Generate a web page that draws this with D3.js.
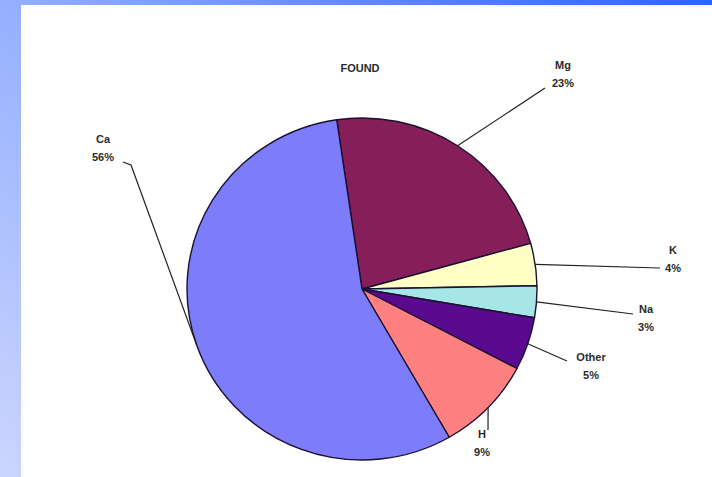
<!DOCTYPE html>
<html lang="en">
<head>
<meta charset="utf-8">
<title>FOUND pie</title>
<script src="https://cdn.jsdelivr.net/npm/d3@7"></script>
<style>
  html, body { margin: 0; padding: 0; background: #fff; }
  svg { display: block; }
  .lbl { font-family: Arial, "Liberation Sans", sans-serif; font-size: 11px; font-weight: bold; fill: #2a2a2a; }
</style>
</head>
<body>
<script>
// data, clockwise from the top
var categories = ['Mg', 'K', 'Na', 'Other', 'H', 'Ca'];
var values = [23, 4, 3, 5, 9, 56];
var colors = ['#861e5a', '#ffffc6', '#a6e6e6', '#5a0a8e', '#ff8080', '#7d7dfb'];
var title = 'FOUND';

// label layout: centre of the name line, and where the leader ends
var labelPos = {
  Mg:    { x: 563, y: 65,  lx: 545, ly: 88 },
  K:     { x: 673, y: 250, lx: 660, ly: 268 },
  Na:    { x: 646, y: 309, lx: 633, ly: 314 },
  Other: { x: 591, y: 357, lx: 567, ly: 361 },
  H:     { x: 482, y: 434, lx: 488, ly: 430 },
  Ca:    { x: 103, y: 139, lx: 131, ly: 165, ex: 123, ey: 162 }
};

var w = 712, h = 477;
var cx = 362, cy = 289, rx = 175, ry = 171;
var startDeg = -8.3;

var svg = d3.select('body').append('svg')
  .attr('width', w)
  .attr('height', h);

// slide background
var defs = svg.append('defs');
var grad = defs.append('linearGradient')
  .attr('id', 'bg')
  .attr('x1', 0).attr('y1', 1).attr('x2', 1).attr('y2', 0);
grad.append('stop').attr('offset', 0).attr('stop-color', '#ccd5fd');
grad.append('stop').attr('offset', 0.5).attr('stop-color', '#95b0ff');
grad.append('stop').attr('offset', 1).attr('stop-color', '#2c64ff');

svg.append('rect').attr('width', w).attr('height', h).attr('fill', 'url(#bg)');
svg.append('rect')
  .attr('x', 21).attr('y', 5)
  .attr('width', w - 21).attr('height', h - 5)
  .attr('fill', '#ffffff');

// title
svg.append('text')
  .attr('class', 'lbl')
  .attr('x', 360).attr('y', 72)
  .attr('text-anchor', 'middle')
  .text(title);

var data = categories.map(function(c, i) {
  return { name: c, value: values[i], color: colors[i] };
});

var pie = d3.pie()
  .sort(null)
  .value(function(d) { return d.value; })
  .startAngle(startDeg * Math.PI / 180)
  .endAngle((startDeg + 360) * Math.PI / 180);

var arcs = pie(data);

var arc = d3.arc().innerRadius(0).outerRadius(rx);

var g = svg.append('g')
  .attr('transform', 'translate(' + cx + ',' + cy + ') scale(1,' + (ry / rx) + ')');

g.selectAll('path')
  .data(arcs)
  .enter()
  .append('path')
  .attr('d', arc)
  .attr('fill', function(d) { return d.data.color; })
  .attr('stroke', '#1a1030')
  .attr('stroke-width', 1.4)
  .attr('vector-effect', 'non-scaling-stroke')
  .attr('stroke-linejoin', 'round');

// leader lines and labels
function edgePoint(d) {
  var a = (d.startAngle + d.endAngle) / 2;
  return [cx + rx * Math.sin(a), cy - ry * Math.cos(a)];
}

arcs.forEach(function(d) {
  var p = labelPos[d.data.name];
  var e = edgePoint(d);
  var pts = [e, [p.lx, p.ly]];
  if (p.ex !== undefined) pts.push([p.ex, p.ey]);
  svg.append('path')
    .attr('d', d3.line()(pts))
    .attr('fill', 'none')
    .attr('stroke', '#222')
    .attr('stroke-width', 1.2);

  var t = svg.append('text')
    .attr('class', 'lbl')
    .attr('text-anchor', 'middle');
  t.append('tspan').attr('x', p.x).attr('y', p.y + 4).text(d.data.name);
  t.append('tspan').attr('x', p.x).attr('y', p.y + 22).text(d.data.value + '%');
});
</script>
</body>
</html>
